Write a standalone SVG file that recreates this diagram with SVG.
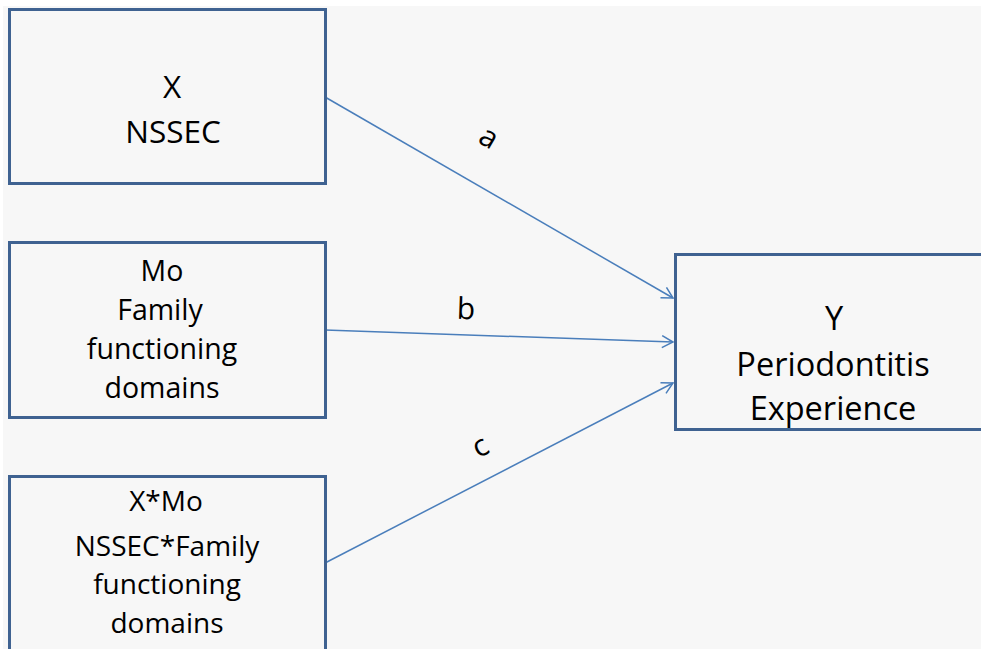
<svg xmlns="http://www.w3.org/2000/svg" width="981" height="649" viewBox="0 0 981 649">
<defs>
<style>
.box{fill:#f7f7f7;stroke:#3f6291;stroke-width:3}
.t{font-family:"Open Sans","Liberation Sans",sans-serif;font-size:30px;fill:#000;text-anchor:middle}
.s1{font-size:31.5px}
.s2{font-size:28.5px}
.s3{font-size:28px}
.s4{font-size:32.5px}
.c{stroke:#4a7ebb;stroke-width:1.5;fill:none;marker-end:url(#ah)}
</style>
<marker id="ah" markerWidth="14" markerHeight="14" refX="12" refY="7" orient="auto" markerUnits="userSpaceOnUse">
<path d="M1,1 L12,7 L1,13" fill="none" stroke="#4a7ebb" stroke-width="1.5"/>
</marker>
</defs>
<rect x="0" y="0" width="981" height="649" fill="#ffffff"/>
<rect x="3" y="6" width="978" height="643" fill="#f7f7f7"/>
<g id="connectors">
<line class="c" x1="325" y1="97" x2="673" y2="298"/>
<line class="c" x1="325" y1="330" x2="673" y2="342"/>
<line class="c" x1="325" y1="563" x2="673" y2="383"/>
<text class="t" x="488" y="147" transform="rotate(30 488 139)">a</text>
<text class="t" x="466" y="319" transform="rotate(2 466 310)">b</text>
<text class="t" x="481" y="456" transform="rotate(-27 481 448)">c</text>
</g>
<g id="nodeX">
<rect class="box" x="9.5" y="9.5" width="316" height="174"/>
<text class="t s1" x="172" y="98">X</text>
<text class="t s1" x="173" y="143">NSSEC</text>
</g>
<g id="nodeMo">
<rect class="box" x="9.5" y="242.5" width="316" height="175"/>
<text class="t s2" x="162" y="281">Mo</text>
<text class="t s2" x="160" y="320">Family</text>
<text class="t s2" x="162" y="359">functioning</text>
<text class="t s2" x="162" y="398">domains</text>
</g>
<g id="nodeXMo">
<rect class="box" x="9.5" y="476.5" width="316" height="180"/>
<text class="t s3" x="166" y="511">X*Mo</text>
<text class="t s3" x="167" y="556">NSSEC*Family</text>
<text class="t s3" x="167" y="594">functioning</text>
<text class="t s3" x="167" y="633">domains</text>
</g>
<g id="nodeY">
<rect class="box" x="675.5" y="254.5" width="320" height="175"/>
<text class="t s4" x="834" y="330">Y</text>
<text class="t s4" x="833" y="376">Periodontitis</text>
<text class="t s4" x="833" y="420">Experience</text>
</g>
</svg>
